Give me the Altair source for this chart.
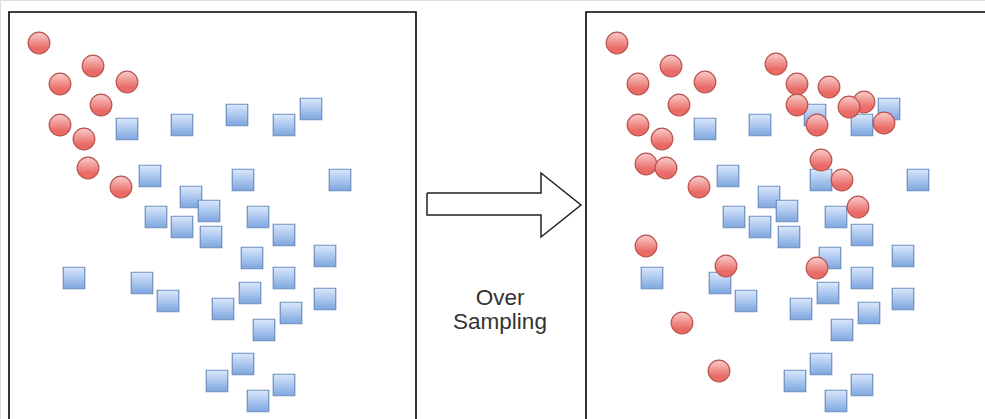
import altair as alt
import pandas as pd

W, H = 985, 419
SHIFT = 578  # horizontal offset of the "after" panel

# Majority class (blue squares), panel-local coordinates
sq_x = [127, 182, 237, 284, 311, 150, 243, 340, 191, 209, 156, 182, 258, 211, 284,
        252, 325, 74, 142, 284, 168, 250, 223, 325, 291, 264, 243, 217, 284, 258]
sq_y = [129, 125, 115, 125, 109, 176, 180, 180, 197, 211, 217, 227, 217, 237, 235,
        258, 256, 278, 283, 278, 301, 293, 309, 299, 313, 330, 364, 381, 385, 401]

# Minority class (red circles), original samples
orig_x = [39, 93, 60, 127, 101, 60, 84, 88, 121]
orig_y = [43, 66, 84, 82, 105, 125, 139, 168, 187]

# Synthetic minority samples added by over-sampling
syn_x = [68, 198, 219, 251, 219, 286, 271, 239, 306, 243, 264, 280, 68, 148, 239, 104, 141]
syn_y = [164, 64, 84, 87, 105, 102, 107, 125, 123, 160, 180, 207, 246, 266, 268, 323, 371]

# Panel frames
box_x1 = [9, 586]
box_x2 = [416, 1010]
box_y1 = [12, 12]
box_y2 = [470, 470]

# Block arrow outline
arrow_x = [427, 541, 541, 581, 541, 541, 427, 427]
arrow_y = [193, 193, 173, 205, 237, 215, 215, 193]

# Caption
label_text = ["Over", "Sampling"]
label_x = [500, 500]
label_y = [305, 329]

xs = alt.Scale(domain=[0, W], range=[0, W])
ys = alt.Scale(domain=[0, H], range=[0, H])

boxes = pd.DataFrame({"x": box_x1, "x2": box_x2, "y": box_y1, "y2": box_y2})
arrow = pd.DataFrame({"x": arrow_x, "y": arrow_y, "o": list(range(len(arrow_x)))})
squares = pd.DataFrame({
    "x": sq_x + [v + SHIFT for v in sq_x],
    "y": sq_y + sq_y,
})
circles = pd.DataFrame({
    "x": orig_x + [v + SHIFT for v in syn_x] + [v + SHIFT for v in orig_x],
    "y": orig_y + syn_y + orig_y,
})
labels = pd.DataFrame({"t": label_text, "x": label_x, "y": label_y})

red_grad = alt.LinearGradient(
    gradient="linear",
    stops=[alt.GradientStop(color="#f8cecc", offset=0),
           alt.GradientStop(color="#ea6b66", offset=0.75)],
    x1=0.5, x2=0.5, y1=0, y2=1,
)
blue_grad = alt.LinearGradient(
    gradient="linear",
    stops=[alt.GradientStop(color="#dae8fc", offset=0),
           alt.GradientStop(color="#7ea6e0", offset=1)],
    x1=0.5, x2=0.5, y1=0, y2=1,
)

box_layer = alt.Chart(boxes).mark_rect(
    fill="#ffffff", fillOpacity=0, stroke="#000000", strokeWidth=1.6
).encode(
    x=alt.X("x:Q", scale=xs, axis=None),
    x2="x2:Q",
    y=alt.Y("y:Q", scale=ys, axis=None),
    y2="y2:Q",
)

arrow_layer = alt.Chart(arrow).mark_line(
    stroke="#222222", strokeWidth=1.5, strokeJoin="miter"
).encode(
    x=alt.X("x:Q", scale=xs, axis=None),
    y=alt.Y("y:Q", scale=ys, axis=None),
    order="o:Q",
)

square_layer = alt.Chart(squares).mark_square(
    size=462, fill=blue_grad, fillOpacity=1, stroke="#6c8ebf", strokeWidth=1.2, opacity=1
).encode(
    x=alt.X("x:Q", scale=xs, axis=None),
    y=alt.Y("y:Q", scale=ys, axis=None),
)

circle_layer = alt.Chart(circles).mark_circle(
    size=470, fill=red_grad, fillOpacity=1, stroke="#b85450", strokeWidth=1.2, opacity=1
).encode(
    x=alt.X("x:Q", scale=xs, axis=None),
    y=alt.Y("y:Q", scale=ys, axis=None),
)

text_layer = alt.Chart(labels).mark_text(
    font="Liberation Sans", fontSize=22.5, color="#333333",
    align="center", baseline="alphabetic"
).encode(
    x=alt.X("x:Q", scale=xs, axis=None),
    y=alt.Y("y:Q", scale=ys, axis=None),
    text="t:N",
)

chart = alt.layer(
    box_layer, arrow_layer, square_layer, circle_layer, text_layer
).properties(
    width=W, height=H, padding=0, autosize=alt.AutoSizeParams(type="none")
).configure_view(strokeWidth=0).configure(background="#ffffff")

chart.save("out.html", embed_options={"renderer": "svg", "actions": False})
